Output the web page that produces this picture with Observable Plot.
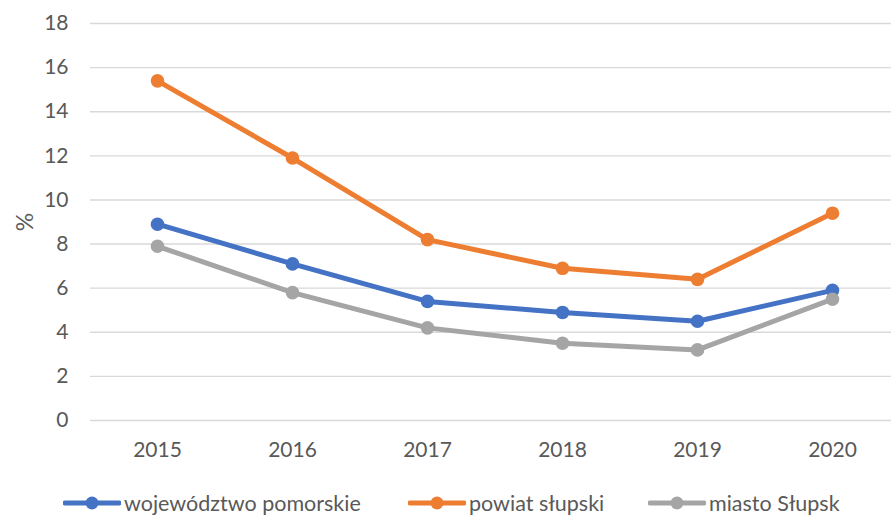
<!DOCTYPE html>
<html>
<head>
<meta charset="utf-8">
<script src="https://cdn.jsdelivr.net/npm/d3@7"></script>
<script src="https://cdn.jsdelivr.net/npm/@observablehq/plot@0.6"></script>
<style>
  body { margin: 0; background: #fff; font-family: Lato, "Open Sans", sans-serif; }
  #wrap { position: relative; width: 891px; height: 515px; }
  #legend { position: absolute; top: 490px; left: 0; width: 891px; height: 25px; }
  .item { position: absolute; display: flex; align-items: center; font-size: 21.5px; color: #595959; line-height: 26px; }
  .item svg { margin-right: 3px; }
</style>
</head>
<body>
<div id="wrap"><div id="chart"></div><div id="legend"></div></div>
<script>
const years = ["2015", "2016", "2017", "2018", "2019", "2020"];
const seriesNames = ["województwo pomorskie", "powiat słupski", "miasto Słupsk"];
const wojewodztwo = [8.9, 7.1, 5.4, 4.9, 4.5, 5.9];
const powiat = [15.4, 11.9, 8.2, 6.9, 6.4, 9.4];
const miasto = [7.9, 5.8, 4.2, 3.5, 3.2, 5.5];
const colors = ["#4472C4", "#ED7D31", "#A5A5A5"];
const yTicks = [0, 2, 4, 6, 8, 10, 12, 14, 16, 18];

const valuesBySeries = [wojewodztwo, powiat, miasto];
const data = [];
seriesNames.forEach((s, i) => {
  years.forEach((y, j) => data.push({series: s, year: y, value: valuesBySeries[i][j]}));
});

const textColor = "#595959";
const chart = Plot.plot({
  width: 891,
  height: 470,
  marginLeft: 90,
  marginRight: 0,
  marginTop: 23,
  marginBottom: 50,
  style: {fontFamily: "Lato, 'Open Sans', sans-serif", background: "#fff"},
  x: {type: "point", domain: years, range: [157, 832], padding: 0},
  y: {domain: [0, 18]},
  color: {domain: seriesNames, range: colors},
  marks: [
    Plot.gridY(yTicks, {stroke: "#d9d9d9", strokeOpacity: 1, strokeWidth: 1.4}),
    Plot.axisY(yTicks, {tickSize: 0, tickPadding: 22, fontSize: 21, fill: textColor,
      label: "%", labelAnchor: "center", labelArrow: "none", labelOffset: 74}),
    Plot.axisX({tickSize: 0, tickPadding: 22, fontSize: 21, fill: textColor, label: null}),
    Plot.line(data, {x: "year", y: "value", z: "series", stroke: "series", strokeWidth: 5}),
    Plot.dot(data, {x: "year", y: "value", fill: "series", r: 6.8})
  ]
});
chart.querySelectorAll("[aria-label='y-axis label']").forEach(e => {
  e.setAttribute("font-size", "23"); e.setAttribute("fill", textColor);
});
document.getElementById("chart").appendChild(chart);

const legend = document.getElementById("legend");
const lefts = [63, 408, 648];
seriesNames.forEach((s, i) => {
  const div = document.createElement("div");
  div.className = "item";
  div.style.left = lefts[i] + "px";
  div.innerHTML = `<svg width="58" height="14"><line x1="2" y1="7" x2="56" y2="7" stroke="${colors[i]}" stroke-width="5" stroke-linecap="round"/><circle cx="29" cy="7" r="6.5" fill="${colors[i]}"/></svg><span>${s}</span>`;
  legend.appendChild(div);
});
</script>
</body>
</html>
